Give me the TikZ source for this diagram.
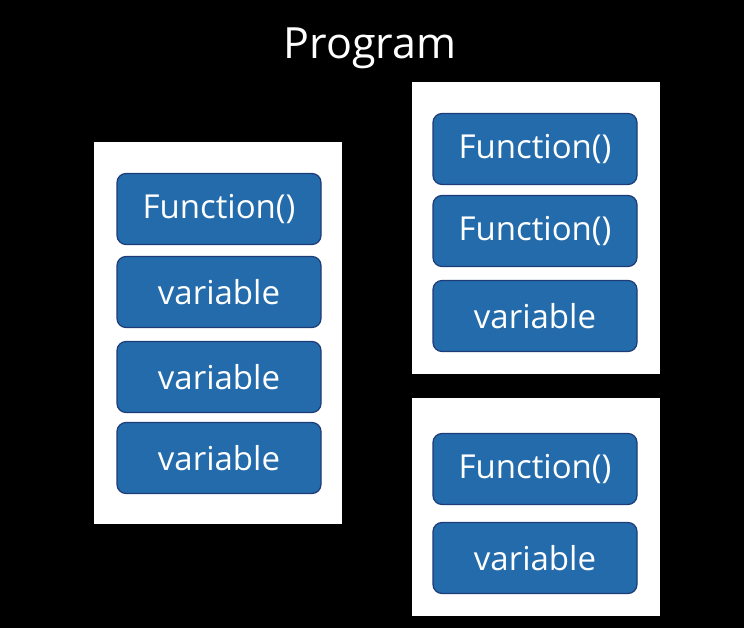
\documentclass[tikz,border=0pt]{standalone}
\usepackage{fontspec}
\setmainfont{Open Sans}
\definecolor{boxblue}{RGB}{35,107,171}
\definecolor{boxedge}{RGB}{30,60,120}
\tikzset{
  px/.style={x=1pt,y=-1pt},
  container/.style={fill=white,draw=none},
  item/.style={rectangle,rounded corners=9pt,fill=boxblue,draw=boxedge,line width=1.2pt,
    minimum width=204pt,minimum height=71pt,text=white,font=\fontsize{33}{38}\selectfont,inner sep=0pt},
}
\begin{document}
\begin{tikzpicture}[px]
\fill[black] (0,0) rectangle (744,628);
\useasboundingbox (0,0) rectangle (744,628);
\node[text=white,font=\fontsize{43}{48}\selectfont] (title) at (370,48) {Program};
% containers
\fill[container] (94,142) rectangle (342,524);
\fill[container] (412,82) rectangle (660,374);
\fill[container] (412,398) rectangle (660,616);
% left column
\node[item] (l1) at (219,209) {Function()};
\node[item] (l2) at (219,292) {variable};
\node[item] (l3) at (219,377) {variable};
\node[item] (l4) at (219,458) {variable};
% right top
\node[item] (r1) at (535,149) {Function()};
\node[item] (r2) at (535,231) {Function()};
\node[item] (r3) at (535,316) {variable};
% right bottom
\node[item] (b1) at (535,469) {Function()};
\node[item] (b2) at (535,558) {variable};
\end{tikzpicture}
\end{document}
